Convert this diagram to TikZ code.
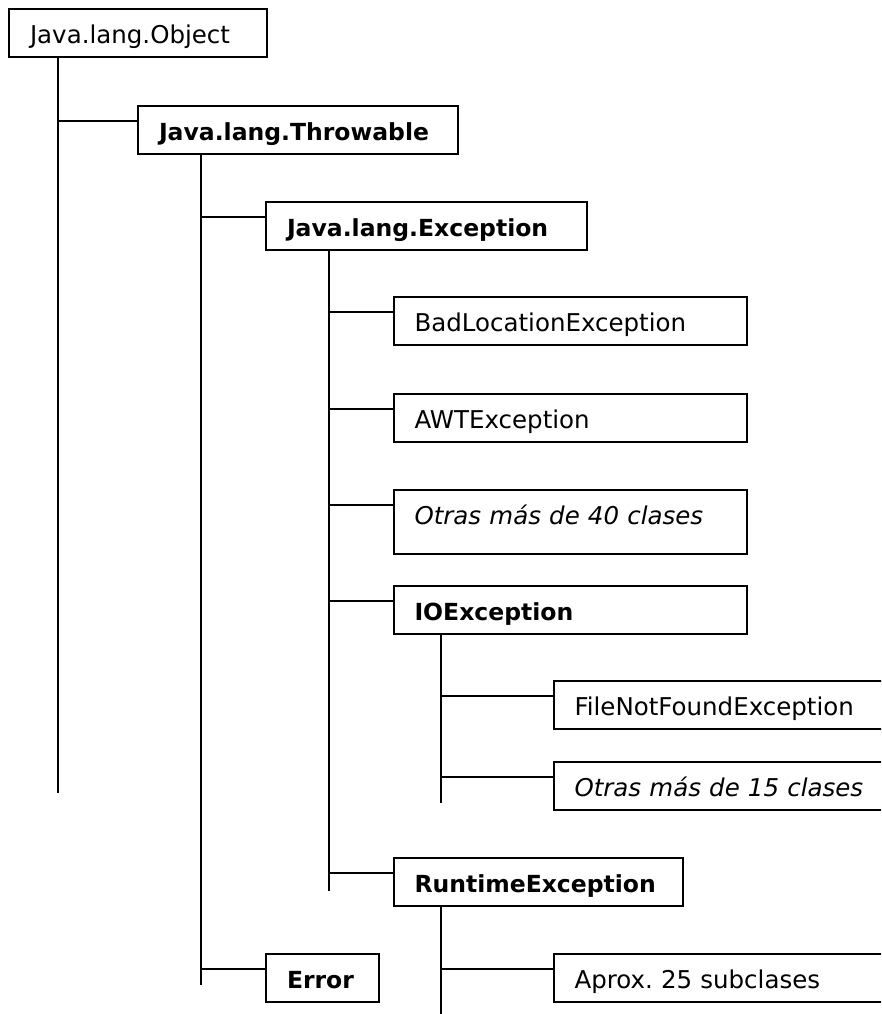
\documentclass[tikz,border=0pt]{standalone}
\usepackage{fontspec}
\setmainfont{DejaVu Sans}
\frenchspacing
\begin{document}
\begin{tikzpicture}[x=1pt,y=-1pt, line width=2pt,
  cbox/.style={draw, anchor=north west, inner xsep=21pt, inner ysep=0pt,
    align=left, text height=34.5pt, text depth=13.5pt,
    font=\fontsize{24.5pt}{28pt}\selectfont},
  bbox/.style={cbox, font=\fontsize{23.5pt}{28pt}\selectfont\bfseries},
  ibox/.style={cbox, font=\fontsize{24.5pt}{28pt}\selectfont\itshape}
]
\useasboundingbox (0,0) rectangle (881,1014);
\clip (0,0) rectangle (881,1014);
\fill[white] (0,0) rectangle (881,1014);

% boxes
\node[cbox, text width=215.5pt] (obj) at (8,8) {Java.lang.Object};
\node[bbox, text width=278pt] (thr) at (137,105) {Java.lang.Throwable};
\node[bbox, text width=278.5pt] (exc) at (265,201) {Java.lang.Exception};
\node[cbox, text width=311pt] (bad) at (392.5,296) {BadLocationException};
\node[cbox, text width=311pt] (awt) at (392.5,392.5) {AWTException};
\node[ibox, text width=311pt, text depth=29pt] (otr40) at (392.5,489) {Otras más de 40 clases};
\node[bbox, text width=311pt] (io) at (392.5,584.5) {IOException};
\node[cbox, text width=318pt] (fnf) at (552.5,680) {FileNotFoundException};
\node[ibox, text width=318pt] (otr15) at (552.5,760.5) {Otras más de 15 clases};
\node[bbox, text width=247pt] (rt) at (392.5,856.5) {RuntimeException};
\node[cbox, text width=318pt] (apx) at (552.5,952.5) {Aprox. 25 subclases};
\node[bbox, text width=70.5pt] (err) at (265,952.5) {Error};

% trunk start points
\coordinate (objv) at ([xshift=50pt]obj.south west);
\coordinate (thrv) at ([xshift=64pt]thr.south west);
\coordinate (excv) at ([xshift=64pt]exc.south west);
\coordinate (iov) at ([xshift=48.5pt]io.south west);
\coordinate (rtv) at ([xshift=48.5pt]rt.south west);

% trunk end points
\coordinate (objend) at (58,793);
\coordinate (thrend) at (201,985);
\coordinate (excend) at (329,890.5);
\coordinate (ioend) at (441,802.5);
\coordinate (rtend) at (441,1016);

% attachment points on children
\foreach \n in {thr,exc,bad,awt,otr40,io,fnf,otr15,rt,apx,err}
  \coordinate (\n c) at ([yshift=-16pt]\n.north west);

% trunks
\draw (objv) -- (objend);
\draw (thrv) -- (thrend);
\draw (excv) -- (excend);
\draw (iov) -- (ioend);
\draw (rtv) -- (rtend);

% branches
\draw (objv |- thrc) -- (thrc);
\draw (thrv |- excc) -- (excc);
\draw (thrv |- errc) -- (errc);
\draw (excv |- badc) -- (badc);
\draw (excv |- awtc) -- (awtc);
\draw (excv |- otr40c) -- (otr40c);
\draw (excv |- ioc) -- (ioc);
\draw (excv |- rtc) -- (rtc);
\draw (iov |- fnfc) -- (fnfc);
\draw (iov |- otr15c) -- (otr15c);
\draw (rtv |- apxc) -- (apxc);
\end{tikzpicture}
\end{document}
